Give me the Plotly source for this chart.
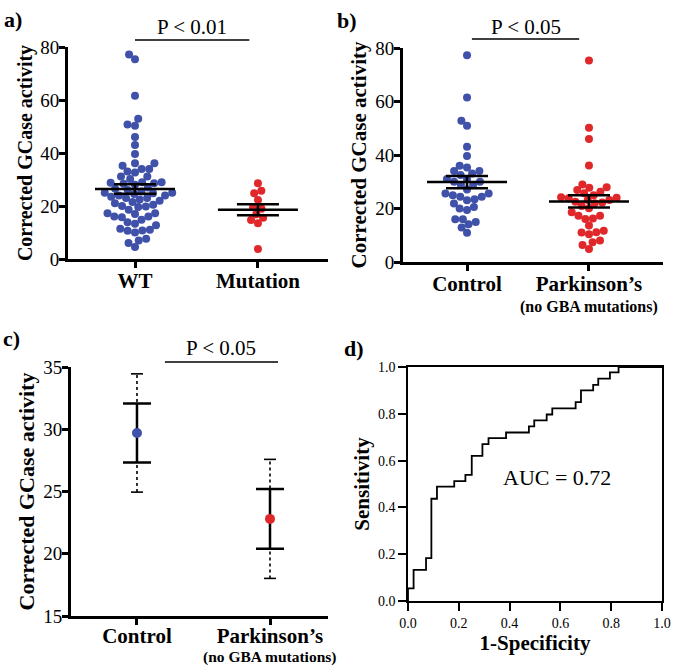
import numpy as np
import plotly.graph_objects as go

W, H = 675, 667
SERIF = "Liberation Serif"
BLUE = "#3F51A8"
RED = "#E0282B"

# ---------------- data ----------------
y_title = "Corrected GCase activity"

a_categories = ["WT", "Mutation"]
a_wt = [77.2, 75.4, 61.6, 52.9, 50.8, 50.3, 46.0, 43.0, 39.6,
        36.1, 36.1, 35.2, 34.0, 34.0,
        33.0, 32.6, 31.1, 31.1, 30.2,
        29.0, 29.0, 28.8, 28.6, 28.4, 28.0,
        27.0, 26.5, 26.0, 25.5, 25.0, 25.0, 24.8, 24.5, 24.0, 24.0, 23.5,
        23.0, 23.0, 22.5, 22.0, 21.5, 21.0, 20.5, 20.0, 19.8,
        19.6, 18.6, 17.3, 17.3, 17.0,
        16.0, 14.8, 15.8, 16.0,
        13.9, 12.7, 13.3,
        11.0, 10.7, 10.0, 10.8, 11.4,
        7.0, 6.0, 7.6,
        4.5]
a_mutation = [28.6, 25.8, 24.8, 22.3, 19.5, 19.0, 16.9, 15.6, 14.7, 13.5, 3.8]
a_p_label = "P < 0.01"

b_categories = ["Control", "Parkinson’s"]
b_subtitle = "(no GBA mutations)"
b_control = [77.3, 61.5, 52.8, 50.9, 43.1, 39.6, 36.0, 35.3, 34.0, 34.0, 33.1,
             32.5, 31.0, 31.0, 30.0, 30.0, 28.8, 28.8, 27.1, 25.6, 25.6, 25.0,
             24.4, 24.4, 23.5, 23.1, 21.9, 20.6, 20.0, 19.4, 16.0, 16.0, 15.0,
             14.1, 12.9, 10.9]
b_parkinson = [75.3, 50.2, 46.0, 36.1, 29.0, 27.9, 27.8, 26.9, 26.3, 25.7, 25.0,
               24.2, 24.0, 23.8, 23.2, 23.2, 22.5, 22.2, 22.0, 20.9, 20.1, 18.6,
               17.3, 17.3, 16.3, 16.1, 13.6, 11.7, 11.1, 11.0, 10.4, 8.0, 7.4,
               6.4, 4.9]
b_p_label = "P < 0.05"

c_categories = ["Control", "Parkinson’s"]
c_subtitle = "(no GBA mutations)"
c_mean = [29.7, 22.8]
c_sem = [2.37, 2.40]
c_ci95 = [4.75, 4.78]
c_p_label = "P < 0.05"

d_fpr = [0.0, 0.022, 0.071, 0.092, 0.114, 0.182, 0.226, 0.251, 0.293, 0.317,
         0.386, 0.476, 0.497, 0.546, 0.568, 0.660, 0.681, 0.729, 0.749, 0.795,
         0.829, 1.0]
d_tpr = [0.0, 0.054, 0.133, 0.183, 0.437, 0.489, 0.512, 0.539, 0.620, 0.670,
         0.696, 0.720, 0.746, 0.772, 0.797, 0.823, 0.850, 0.900, 0.924, 0.950,
         0.977, 1.0]
d_auc_label = "AUC = 0.72"

# ---------------- layout geometry (pixels) ----------------
A = dict(x0=68, x1=328, y0=47, y1=259, xr=[-0.545, 1.57], yr=[0, 80])
B = dict(x0=403, x1=663, y0=48, y1=262, xr=[-0.525, 1.607], yr=[0, 80])
C = dict(x0=71, x1=328, y0=367, y1=616, xr=[-0.496, 1.436], yr=[15, 35])
D = dict(x0=408, x1=662, y0=367, y1=601, xr=[0, 1], yr=[0, 1])


def xdom(b):
    return [b["x0"] / W, b["x1"] / W]


def ydom(b):
    return [1 - b["y1"] / H, 1 - b["y0"] / H]


def scales(b):
    xs = (b["x1"] - b["x0"]) / (b["xr"][1] - b["xr"][0])
    ys = (b["y1"] - b["y0"]) / (b["yr"][1] - b["yr"][0])
    return xs, ys


def swarm(values, xs, ys, diam=7.6):
    vals = np.asarray(values, dtype=float)
    order = np.argsort(vals)
    placed = []
    offs = np.zeros(len(vals))
    for i in order:
        y = vals[i] * ys
        ivs = []
        for px, py in placed:
            dy = abs(py - y)
            if dy < diam:
                dx = np.sqrt(diam ** 2 - dy ** 2)
                ivs.append((px - dx, px + dx))
        cands = [0.0] + [e for iv in ivs for e in iv]
        cands.sort(key=lambda c: (abs(c), c))
        xpos = 0.0
        for c in cands:
            if all(not (lo + 1e-6 < c < hi - 1e-6) for lo, hi in ivs):
                xpos = c
                break
        placed.append((xpos, y))
        offs[i] = xpos / xs
    return offs


def mean_sem(v):
    v = np.asarray(v, dtype=float)
    return v.mean(), v.std(ddof=1) / np.sqrt(len(v))


fig = go.Figure()


def dot_panel(box, groups, colors, xa, ya):
    xs, ys = scales(box)
    half = 40 / xs
    mx, my, errs = [], [], []
    for i, (vals, col) in enumerate(zip(groups, colors)):
        offs = swarm(vals, xs, ys)
        fig.add_trace(go.Scatter(x=i + offs, y=vals, mode="markers", xaxis=xa, yaxis=ya,
                                 marker=dict(size=8, color=col, line=dict(width=0)),
                                 showlegend=False, cliponaxis=False))
        m, s = mean_sem(vals)
        mx += [i - half, i + half, None]
        my += [m, m, None]
        errs.append((i, m, s))
    fig.add_trace(go.Scatter(x=mx, y=my, mode="lines", xaxis=xa, yaxis=ya,
                             line=dict(color="black", width=2.5), showlegend=False))
    fig.add_trace(go.Scatter(x=[e[0] for e in errs], y=[e[1] for e in errs], mode="markers",
                             xaxis=xa, yaxis=ya, marker=dict(size=1, color="rgba(0,0,0,0)"),
                             error_y=dict(type="data", array=[e[2] for e in errs], color="black",
                                          thickness=2.5, width=21),
                             showlegend=False))


dot_panel(A, [a_wt, a_mutation], [BLUE, RED], "x", "y")
dot_panel(B, [b_control, b_parkinson], [BLUE, RED], "x2", "y2")

# Panel c
xs_c, _ = scales(C)
cw = 6 / xs_c
dx, dy, cx, cy = [], [], [], []
for i, (m, ci) in enumerate(zip(c_mean, c_ci95)):
    dx += [i, i, None]
    dy += [m - ci, m + ci, None]
    cx += [i - cw, i + cw, None, i - cw, i + cw, None]
    cy += [m - ci, m - ci, None, m + ci, m + ci, None]
fig.add_trace(go.Scatter(x=dx, y=dy, mode="lines", xaxis="x3", yaxis="y3",
                         line=dict(color="black", width=1.6, dash="dot"), showlegend=False))
fig.add_trace(go.Scatter(x=cx, y=cy, mode="lines", xaxis="x3", yaxis="y3",
                         line=dict(color="black", width=1.6), showlegend=False))
fig.add_trace(go.Scatter(x=[0, 1], y=c_mean, mode="markers", xaxis="x3", yaxis="y3",
                         marker=dict(size=10, color=[BLUE, RED]),
                         error_y=dict(type="data", array=c_sem, color="black", thickness=2.5, width=14),
                         showlegend=False))

# Panel d
fig.add_trace(go.Scatter(x=d_fpr, y=d_tpr, mode="lines", line_shape="vh", xaxis="x4", yaxis="y4",
                         line=dict(color="black", width=1.8), showlegend=False))

# ---------------- axes ----------------
def cat_axis(box, ticktext, anchor, standoff=-5):
    return dict(domain=xdom(box), range=box["xr"], tickvals=[0, 1], ticktext=ticktext,
                showline=True, linewidth=3, linecolor="black", ticks="outside", ticklen=6,
                tickwidth=2.5, tickcolor="black", anchor=anchor, automargin=False,
                ticklabelstandoff=standoff,
                tickfont=dict(family=SERIF, size=21, color="black", weight="bold"),
                showgrid=False, zeroline=False, fixedrange=True)


def val_axis(box, dtick, title_size, anchor):
    return dict(domain=ydom(box), range=box["yr"], dtick=dtick, tick0=box["yr"][0],
                showline=True, linewidth=3, linecolor="black", ticks="outside", ticklen=6,
                tickwidth=2.5, tickcolor="black", anchor=anchor, automargin=False,
                ticklabelstandoff=-4,
                tickfont=dict(family=SERIF, size=19, color="black"),
                title=dict(text=y_title, standoff=3,
                           font=dict(family=SERIF, size=title_size, color="black", weight="bold")),
                showgrid=False, zeroline=False, fixedrange=True)


def box_axis(box, key, title, anchor):
    return dict(domain=xdom(box) if key == "x" else ydom(box), range=box[key + "r"],
                dtick=0.2, tick0=0, tickformat=".1f",
                showline=True, mirror=True, linewidth=1.6, linecolor="black", ticks="outside",
                ticklen=8, tickwidth=1.5, tickcolor="black", anchor=anchor, automargin=False,
                tickfont=dict(family=SERIF, size=14, color="black"),
                title=dict(text=title, standoff=3,
                           font=dict(family=SERIF, size=21, color="black", weight="bold")),
                showgrid=False, zeroline=False)


fig.update_layout(
    width=W, height=H, margin=dict(l=0, r=0, t=0, b=0, autoexpand=False),
    paper_bgcolor="white", plot_bgcolor="white", showlegend=False,
    font=dict(family=SERIF, color="black"),
    xaxis=cat_axis(A, a_categories, "y"),
    yaxis=val_axis(A, 20, 20, "x"),
    xaxis2=cat_axis(B, b_categories, "y2"),
    yaxis2=val_axis(B, 20, 21, "x2"),
    xaxis3=cat_axis(C, c_categories, "y3", standoff=-7),
    yaxis3=val_axis(C, 5, 22, "x3"),
    xaxis4=box_axis(D, "x", "1-Specificity", "y4"),
    yaxis4=box_axis(D, "y", "Sensitivity", "x4"),
)

# subtitles under the Parkinson's category
fig.add_annotation(xref="x2", yref="paper", x=1, y=1 - 307 / H, text=b_subtitle, showarrow=False,
                   font=dict(family=SERIF, size=16, color="black", weight="bold"),
                   xanchor="center", yanchor="middle")
fig.add_annotation(xref="x3", yref="paper", x=1, y=1 - 657 / H, text=c_subtitle, showarrow=False,
                   font=dict(family=SERIF, size=15.5, color="black", weight="bold"),
                   xanchor="center", yanchor="middle")


# significance brackets
def bracket(xa, x0, x1, ypx, label, ytxt):
    fig.add_shape(type="line", xref=xa, yref="paper", x0=x0, x1=x1,
                  y0=1 - ypx / H, y1=1 - ypx / H, line=dict(color="black", width=1.6))
    fig.add_annotation(xref=xa, yref="paper", x=(x0 + x1) / 2, y=1 - ytxt / H, text=label,
                       showarrow=False, font=dict(family=SERIF, size=21, color="black"),
                       xanchor="center", yanchor="middle")


bracket("x", 0.0, 0.93, 40, a_p_label, 27)
bracket("x2", 0.04, 0.92, 39, b_p_label, 27)
bracket("x3", 0.21, 1.06, 362, c_p_label, 348)

fig.add_annotation(xref="x4", yref="y4", x=0.587, y=0.526, text=d_auc_label, showarrow=False,
                   font=dict(family=SERIF, size=22, color="black"))

for lab, px, py in [("a)", 2, 5), ("b)", 335, 6), ("c)", 1, 324), ("d)", 342, 334)]:
    fig.add_annotation(xref="paper", yref="paper", x=px / W, y=1 - py / H, text=lab,
                       showarrow=False, xanchor="left", yanchor="top",
                       font=dict(family=SERIF, size=22, color="black", weight="bold"))

fig.write_html("out.html", config={"displayModeBar": False},
               post_script="document.body.style.margin='0';")
